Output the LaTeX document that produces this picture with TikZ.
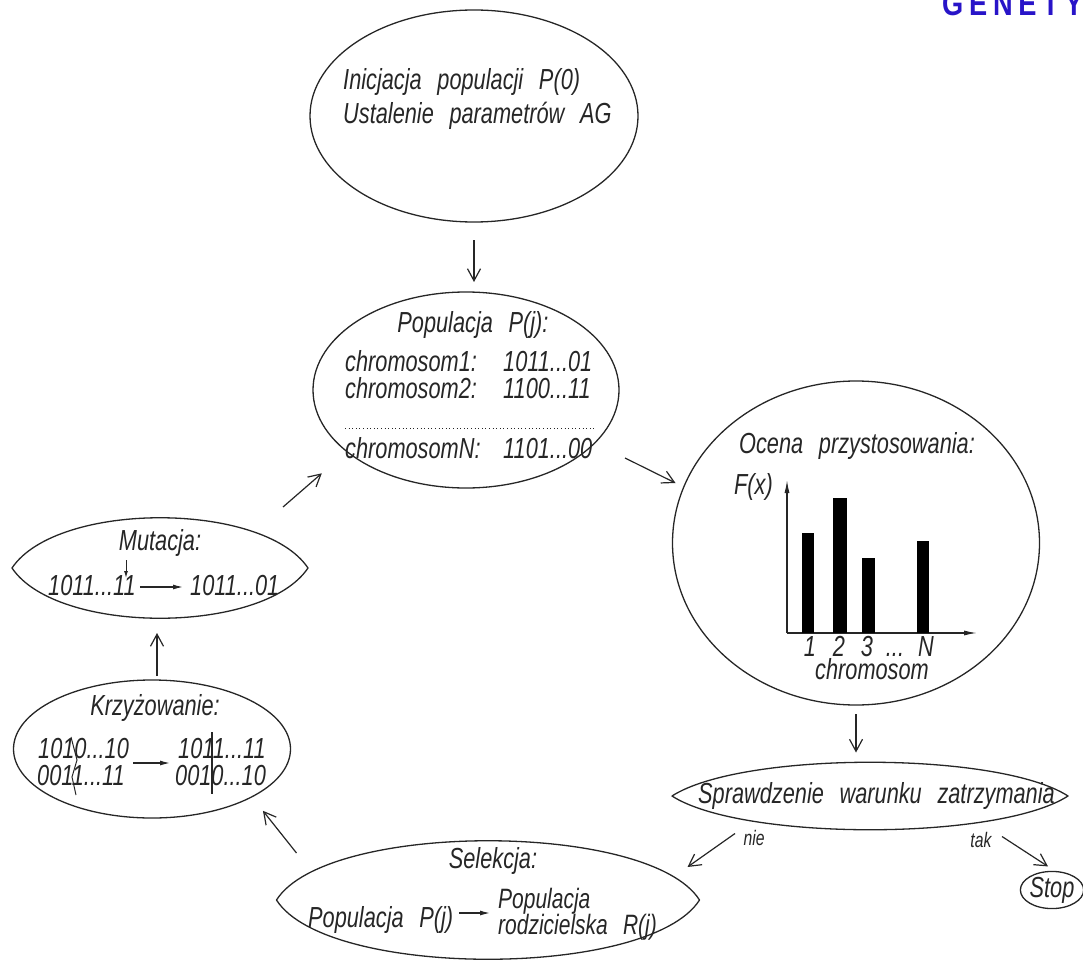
\documentclass[tikz,border=0pt]{standalone}
\usepackage{fontspec}
\setmainfont{Liberation Sans}[FakeStretch=0.75,WordSpace=2.6]
\newfontfamily\headfont{Liberation Sans}[LetterSpace=17,FakeStretch=0.8]
\usetikzlibrary{arrows.meta,calc,shapes.geometric}
\definecolor{headblue}{RGB}{40,20,200}
\tikzset{
  outline/.style={draw=black!85, line width=1.3pt, line join=round},
  blob/.style={outline, ellipse, inner sep=0pt, outer sep=0pt},
  lensbox/.style={rectangle, inner sep=0pt, outer sep=0pt},
  txt/.style={font=\fontsize{29}{30}\selectfont\itshape, inner sep=0pt, text=black!85},
  txtsm/.style={font=\fontsize{28}{28}\selectfont\itshape, inner sep=0pt, text=black!85},
  small/.style={font=\fontsize{21}{22}\selectfont\itshape, inner sep=0pt, text=black!85},
  flow/.style={draw=black!85, line width=1.2pt, -{Straight Barb[length=12pt,width=13pt]}},
  inarr/.style={draw=black!85, line width=1.2pt, -{Latex[length=10pt,width=5pt]}},
}
% pointed oval drawn between the west and east anchors of a node
\newcommand{\lensline}[3]{%
  \draw[outline] (#1.west) .. controls +(#2,-#3) and +(-#2,-#3) .. (#1.east)
    .. controls +(-#2,#3) and +(#2,#3) .. (#1.west) -- cycle;}
\begin{document}
\begin{tikzpicture}[x=1pt,y=-1pt]
  \useasboundingbox (0,0) rectangle (1083,960);
  \clip (0,0) rectangle (1083,960);
  % heading, cut by the page edge
  \node[font=\headfont\bfseries\fontsize{34}{36}\selectfont, text=headblue, inner sep=0pt, anchor=base west] (head) at (942,16) {GENETY};
  % draw the outlines
  \node[blob, minimum width=328pt, minimum height=212pt] (init) at (474,116) {};
  \node[blob, minimum width=306pt, minimum height=196pt] (pop) at (466,390) {};
  \node[blob, minimum width=367pt, minimum height=324pt] (ocena) at (856,543) {};
  \node[blob, minimum width=277pt, minimum height=138pt] (krz) at (152,749) {};
  \node[lensbox, minimum width=396pt, minimum height=67pt] (chk) at (870,796) {};
  \node[lensbox, minimum width=423pt, minimum height=118pt] (sel) at (488,900) {};
  \node[lensbox, minimum width=296pt, minimum height=100pt] (mut) at (160,568) {};
  \lensline{chk}{70}{45}
  \lensline{sel}{50}{79}
  \lensline{mut}{45}{67}
  \node[blob, txt, minimum width=59pt, minimum height=34pt] (stop) at (1052,890) {Stop};
  % initial population
  \node[txt, anchor=base west] (initA) at (343,90) {Inicjacja populacji P(0)};
  \node[txt, anchor=base west] (initB) at (343,124) {Ustalenie parametrów AG};
  % population
  \node[txt, anchor=base] (popT) at (473,332) {Populacja P(j):};
  \node[txt, anchor=base west] (c1) at (345,371) {chromosom1:};
  \node[txt, anchor=base west] (c1v) at (503,371) {1011...01};
  \node[txt, anchor=base west] (c2) at (345,398) {chromosom2:};
  \node[txt, anchor=base west] (c2v) at (503,398) {1100...11};
  \draw[line width=1pt, black!85, dash pattern=on 1pt off 2.6pt] (345,428) -- (595,428);
  \node[txt, anchor=base west] (cN) at (345,458) {chromosomN:};
  \node[txt, anchor=base west] (cNv) at (503,458) {1101...00};
  % fitness chart
  \node[txt, anchor=base] (ocT) at (857,453) {Ocena przystosowania:};
  \node[txt, anchor=base east] (fx) at (773,494) {F(x)};
  \coordinate (orig) at (787,633);
  \draw[line width=1.2pt, black!85, -{Latex[length=13pt,width=5pt]}] (orig) -- (787,480);
  \draw[line width=1.2pt, black!85, -{Latex[length=13pt,width=5pt]}] (orig) -- (977,633);
  \fill[black] (802,533) rectangle (814,633);
  \fill[black] (833,498) rectangle (847,633);
  \fill[black] (862,558) rectangle (875,633);
  \fill[black] (917,541) rectangle (929,633);
  \node[txt, anchor=base] (l1) at (810,656) {1};
  \node[txt, anchor=base] (l2) at (839,656) {2};
  \node[txt, anchor=base] (l3) at (867,656) {3};
  \node[txt, anchor=base] (ld) at (895,656) {...};
  \node[txt, anchor=base] (lN) at (926,656) {N};
  \node[txt, anchor=base] (chrom) at (872,679) {chromosom};
  % stop condition
  \node[txt, anchor=base west] (chkT) at (698,803) {Sprawdzenie warunku zatrzymania};
  % selection
  \node[txt, anchor=base] (selT) at (493,868) {Selekcja:};
  \node[txt, anchor=base west] (selA) at (308,927) {Populacja P(j)};
  \node[txtsm, anchor=base west] (selB) at (498,908) {Populacja};
  \node[txtsm, anchor=base west] (selC) at (498,934) {rodzicielska R(j)};
  \draw[inarr] ($(selA.base east)+(6,-14)$) -- ($(selB.base west)+(-8,5)$);
  % crossover
  \node[txt, anchor=base] (krzT) at (155,715) {Krzyżowanie:};
  \node[txt, anchor=base west] (k1) at (38,758) {1010...10};
  \node[txt, anchor=base west] (k2) at (37,785) {0011...11};
  \node[txt, anchor=base west] (k3) at (178,758) {1011...11};
  \node[txt, anchor=base west] (k4) at (175,785) {0010...10};
  \draw[line width=1pt, black!85] (71,737) -- (77,760) -- (72,777) -- (76,795);
  \draw[line width=1.8pt, black!85] (212,732) -- (212,794);
  \draw[inarr] ($(k1.base east)+(4,5)$) -- ($(k3.base west)+(-8,5)$);
  % mutation
  \node[txt, anchor=base] (mutT) at (160,550) {Mutacja:};
  \node[txt, anchor=base west] (m1) at (48,595) {1011...11};
  \node[txt, anchor=base west] (m2) at (190,595) {1011...01};
  \draw[inarr] ($(m1.base east)+(4,-8)$) -- ($(m2.base west)+(-7,-8)$);
  \draw[line width=1pt, black!85, -{Latex[length=7pt,width=4pt]}] ($(m1.base west)+(78,-35)$) -- ($(m1.base west)+(78,-17)$);
  % draw the cycle arrows
  \draw[flow] ($(init.south)+(0,18)$) -- ($(init.south |- pop.north)+(0,-10)$);
  \draw[flow] ($(pop.east)+(6,68)$) -- ($(ocena.west)+(3,-60)$);
  \draw[flow] ($(ocena.south)+(0,9)$) -- ($(ocena.south |- chk.north)+(0,-10)$);
  \draw[flow] ($(chk.south west)+(63,4)$) node[small, anchor=base west, xshift=8pt, yshift=-12pt] (nie) {nie} -- ($(sel.north east)+(-12,26)$);
  \draw[flow] ($(chk.south east)+(-66,7)$) node[small, anchor=base east, xshift=-10pt, yshift=-11pt] (tak) {tak} -- ($(stop.north)+(-4,-5)$);
  \draw[flow] ($(sel.west)+(20,-47)$) -- ($(krz.south east)+(13,13)$);
  \draw[flow] ($(krz.north)+(5,-4)$) -- ($(mut.south)+(-3,15)$);
  \draw[flow] ($(mut.north east)+(-25,-11)$) -- ($(pop.south west)+(-36,14)$);
\end{tikzpicture}
\end{document}
